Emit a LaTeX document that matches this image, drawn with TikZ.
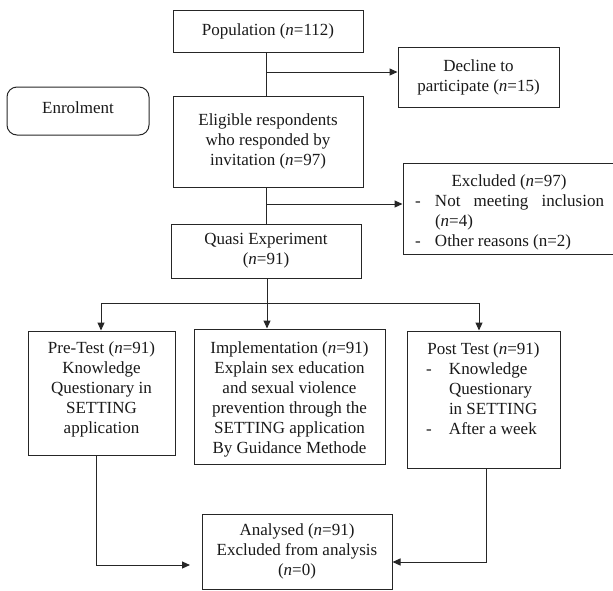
\documentclass[tikz,border=0pt]{standalone}
\usepackage{fontspec}
\setmainfont{Liberation Serif}
\usetikzlibrary{arrows.meta}
\newcommand\bxt[5]{\parbox[c][#2][#3]{#1}{\vspace*{#4}#5}}
\begin{document}
\begin{tikzpicture}[x=1pt,y=-1pt,
  font=\fontsize{17}{20}\selectfont,
  bx/.style={draw=black!85, line width=1pt, inner sep=0pt, rectangle, text=black!90},
  ln/.style={draw=black!85, line width=1pt},
  arr/.style={-{Triangle[length=8pt,width=7pt]}}]
\useasboundingbox (0,0) rectangle (613,590);

\node[bx] (pop) at (268,31) {\parbox[c][42pt][c]{190pt}{\centering Population (\textit{n}=112)}};
\node[bx] (dec) at (478.5,77) {\parbox[c][60pt][c]{161pt}{\centering Decline to\\ participate (\textit{n}=15)}};
\node[bx, rounded corners=10pt] (enr) at (78,111) {\bxt{142pt}{48pt}{t}{15pt}{\centering Enrolment}};
\node[bx] (elig) at (268,141.5) {\parbox[c][91pt][c]{190pt}{\centering Eligible respondents\\ who responded by\\ invitation (\textit{n}=97)}};
\node[bx] (excl) at (509,208.5) {\bxt{212pt}{91pt}{t}{11.5pt}{{\centering Excluded (\textit{n}=97)\par}
  \hspace*{12pt}\makebox[20pt][l]{-}\makebox[169pt][s]{Not meeting inclusion}\par
  \hspace*{32pt}(\textit{n}=4)\par
  \hspace*{12pt}\makebox[20pt][l]{-}Other reasons (n=2)}};
\node[bx] (quasi) at (266,251) {\parbox[c][54pt][c]{190pt}{\centering Quasi Experiment\\ (\textit{n}=91)}};
\node[bx] (pre) at (101.5,393) {\bxt{147pt}{124pt}{t}{11pt}{\centering Pre-Test (\textit{n}=91)\\ Knowledge\\ Questionary in\\ SETTING\\ application}};
\node[bx] (impl) at (289.5,396.5) {\bxt{191pt}{135pt}{t}{13pt}{\centering Implementation (\textit{n}=91)\\ Explain sex education\\ and sexual violence\\ prevention through the\\ SETTING application\\ By Guidance Methode}};
\node[bx] (post) at (483.5,399.5) {\bxt{153pt}{137pt}{t}{12pt}{{\centering Post Test (\textit{n}=91)\par}
  \hspace*{19pt}\makebox[23pt][l]{-}Knowledge\par
  \hspace*{42pt}Questionary\par
  \hspace*{42pt}in SETTING\par
  \hspace*{19pt}\makebox[23pt][l]{-}After a week}};
\node[bx] (anal) at (297,551.5) {\parbox[c][75pt][c]{190pt}{\centering Analysed (\textit{n}=91)\\ Excluded from analysis\\ (\textit{n}=0)}};

\coordinate (j1) at (266,72);
\draw[ln] (pop.south -| j1) -- (elig.north -| j1);
\draw[ln,arr] (j1) -- (j1 -| dec.west);
\coordinate (j2) at (266,204);
\draw[ln] (elig.south -| j2) -- (quasi.north -| j2);
\draw[ln,arr] (j2) -- (j2 -| excl.west);
\coordinate (j3) at (267,303);
\draw[ln,arr] (quasi.south -| j3) -- (impl.north -| j3);
\coordinate (bl) at (101,303);
\coordinate (br) at (479,303);
\draw[ln] (bl) -- (br);
\draw[ln,arr] (bl) -- (bl |- pre.north);
\draw[ln,arr] (br) -- (br |- post.north);
\coordinate (k1) at (96,565);
\coordinate (k1e) at (190,565);
\draw[ln,arr] (pre.south -| k1) -- (k1) -- (k1e);
\coordinate (k2) at (486,562);
\draw[ln,arr] (post.south -| k2) -- (k2) -- (k2 -| anal.east);
\end{tikzpicture}
\end{document}
